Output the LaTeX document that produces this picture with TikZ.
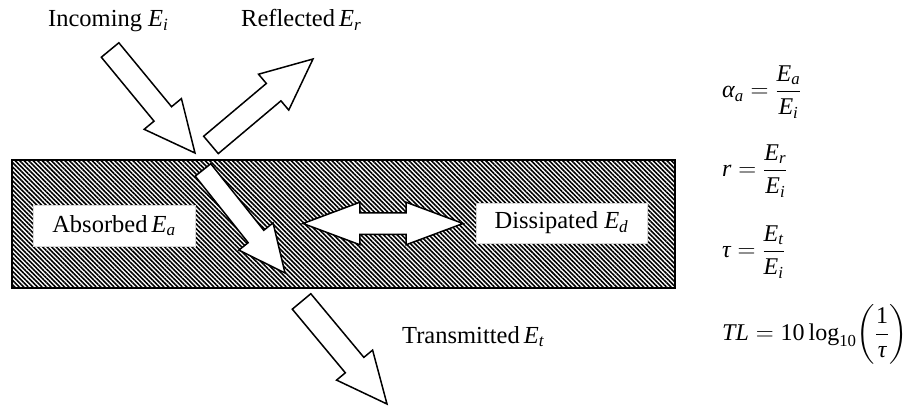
\documentclass[tikz,border=0pt]{standalone}
\usepackage{amsmath}
\usepackage{fontspec}
\setmainfont{Liberation Serif}
\usetikzlibrary{shapes.arrows,patterns.meta}
\newcommand\mi[1]{\textit{#1}}
\begin{document}
\begin{tikzpicture}[x=1pt,y=1pt,
  blockarrow/.style={single arrow, draw=black, fill=white, line width=1.5pt,
    inner xsep=0pt, minimum width=1pt, outer sep=0pt, anchor=tip, line join=miter},
  lbl/.style={font=\fontsize{24.5}{28}\selectfont, inner sep=0pt},
  eq/.style={font=\fontsize{24}{28}\selectfont, inner sep=0pt, anchor=west},
  whitebox/.style={lbl, fill=white, draw=black!15, line width=0.5pt},
  slabstyle/.style={draw=black, line width=2pt,
    preaction={fill=white},
    pattern={Lines[angle=-45,distance=3.2pt,line width=1.6pt]}, pattern color=black}
]
\useasboundingbox (0,0) rectangle (909,408);

% slab
\node[slabstyle, minimum width=663pt, minimum height=128pt, inner sep=0pt] (slab) at (343.5,184) {};

% boxes inside slab
\node[whitebox, minimum width=162pt, minimum height=41pt] (abs) at (114,182.5) {Absorbed\,$\mi{E}_{\mi{a}}$};
\node[whitebox, minimum width=171pt, minimum height=40pt] (dis) at (561.5,185) {Dissipated $\mi{E}_{\mi{d}}$};

% double arrow
\node[double arrow, draw=black, fill=white, line width=1.5pt, inner xsep=0pt, inner ysep=10pt,
  minimum width=1pt, outer sep=0pt, double arrow head extend=10.5pt, double arrow tip angle=41,
  minimum height=160pt] (dbl) at (383,184.5) {};

% arrows
\node[blockarrow, inner ysep=9.2pt, single arrow head extend=11.9pt, single arrow tip angle=50.2,
  minimum height=131.7pt, rotate=-51.5] (absarrow) at (285,135) {};
\node[blockarrow, inner ysep=10.6pt, single arrow head extend=12.8pt, single arrow tip angle=51,
  minimum height=133.5pt, rotate=-50.5] (inc) at (195,255) {};
\node[blockarrow, inner ysep=10.6pt, single arrow head extend=12.1pt, single arrow tip angle=49,
  minimum height=133.4pt, rotate=40.1] (refl) at (313,349) {};
\node[blockarrow, inner ysep=11.3pt, single arrow head extend=11.4pt, single arrow tip angle=49.7,
  minimum height=133.5pt, rotate=-50.2] (trans) at (387,4) {};

% labels
\node[lbl, anchor=base west] (incl) at (48,381) {Incoming $\mi{E}_{\mi{i}}$};
\node[lbl, anchor=base west] (refll) at (241,381) {Reflected\,$\mi{E}_{\mi{r}}$};
\node[lbl, anchor=base west] (transl) at (402,65) {Transmitted\,$\mi{E}_{\mi{t}}$};

% equations
\node[eq] (eqa) at (722,316) {$\mi{α}_{\mi{a}} = \dfrac{\mi{E}_{\mi{a}}}{\mi{E}_{\mi{i}}}$};
\node[eq] (eqr) at (722,237) {$\mi{r} = \dfrac{\mi{E}_{\mi{r}}}{\mi{E}_{\mi{i}}}$};
\node[eq] (eqt) at (722,156) {$\mi{τ} = \dfrac{\mi{E}_{\mi{t}}}{\mi{E}_{\mi{i}}}$};
\node[eq] (eqtl) at (722,74) {$\mi{TL} = \text{10\,log}_{\text{10}}\!\left(\dfrac{\text{1}}{\mi{τ}}\right)$};
\end{tikzpicture}
\end{document}
